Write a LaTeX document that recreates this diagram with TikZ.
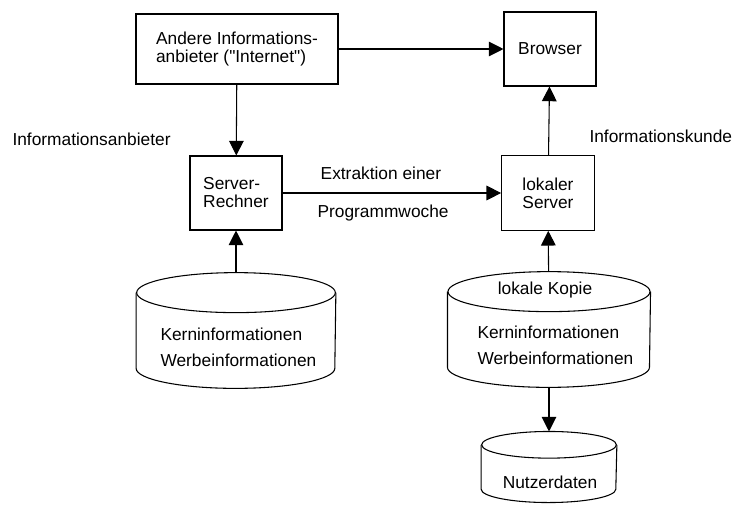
\documentclass[tikz,border=0pt]{standalone}
\usepackage{fontspec}
\setmainfont{Liberation Sans}[Ligatures=TeXOff]
\usetikzlibrary{arrows.meta}
\begin{document}
\begin{tikzpicture}[x=0.75pt, y=-0.75pt, font=\fontsize{13}{13.5}\selectfont, line width=0.8pt, >={Triangle[length=11pt, width=11pt]}]
        \tikzstyle{blk} = [draw, black]
        \tikzstyle{box} = [draw, rectangle, inner sep=0pt, align=left]
        \tikzstyle{db} = [rectangle, inner sep=0pt]
        \tikzstyle{txt} = [inner sep=0pt, align=left]

        \useasboundingbox (0, 0) rectangle (732, 504);

        \node[box, minimum width=151.5pt, minimum height=52.5pt] (other providers) at (237, 49) {Andere Informations-\\anbieter ("Internet")};
        \node[box, minimum width=69pt, minimum height=55.5pt] (browser) at (550, 49) {Browser};
        \node[box, minimum width=69pt, minimum height=55.5pt] (server) at (236, 193) {Server-\\Rechner};
        \node[box, minimum width=69.5pt, minimum height=56pt] (local server) at (548, 193) {lokaler\\Server};

        % cylinders: outline drawn round the named nodes
        \node[db, minimum width=149pt, minimum height=86pt] (core db) at (236, 330.5) {};
        \node[db, minimum width=151.5pt, minimum height=86pt] (local copy) at (549, 329.5) {};
        \node[db, minimum width=101pt, minimum height=52.5pt] (user db) at (549, 467) {};
        \foreach \db/\rx/\ry in {core db/74.5pt/15pt, local copy/75.75pt/15pt, user db/50.5pt/10pt} {
            \draw ([yshift=-\ry]\db.north) ellipse [x radius=\rx, y radius=\ry];
            \draw ([yshift=-\ry]\db.north west) -- ([yshift=\ry]\db.south west)
                arc [start angle=180, end angle=360, x radius=\rx, y radius=\ry]
                -- ([yshift=-\ry]\db.north east);
        }

        \node[txt, anchor=west] (provider label) at (12, 139) {Informationsanbieter};
        \node[txt, anchor=west] (customer label) at (589, 136) {Informationskunde};
        \node[txt, anchor=west] (core text) at (160, 347) {Kerninformationen\\[6pt]Werbeinformationen};
        \node[txt] (copy title) at (545, 290) {lokale Kopie};
        \node[txt, anchor=west] (copy text) at (477, 345.5) {Kerninformationen\\[6pt]Werbeinformationen};
        \node[txt] (user text) at (550, 482) {Nutzerdaten};

        \path[blk, ->] (other providers) to (browser);
        \path[blk, ->] (other providers) to (server);
        \path[blk, ->] (server) to node[pos=0.45, above=6pt] {Extraktion einer} node[pos=0.46, below=5pt] {Programmwoche} (local server);
        \path[blk, ->] (local server) to (browser);
        \path[blk, ->] (core db) to (server);
        \path[blk, ->] (local copy) to (local server);
        \path[blk, ->] (local copy) to (user db);
    \end{tikzpicture}
\end{document}
